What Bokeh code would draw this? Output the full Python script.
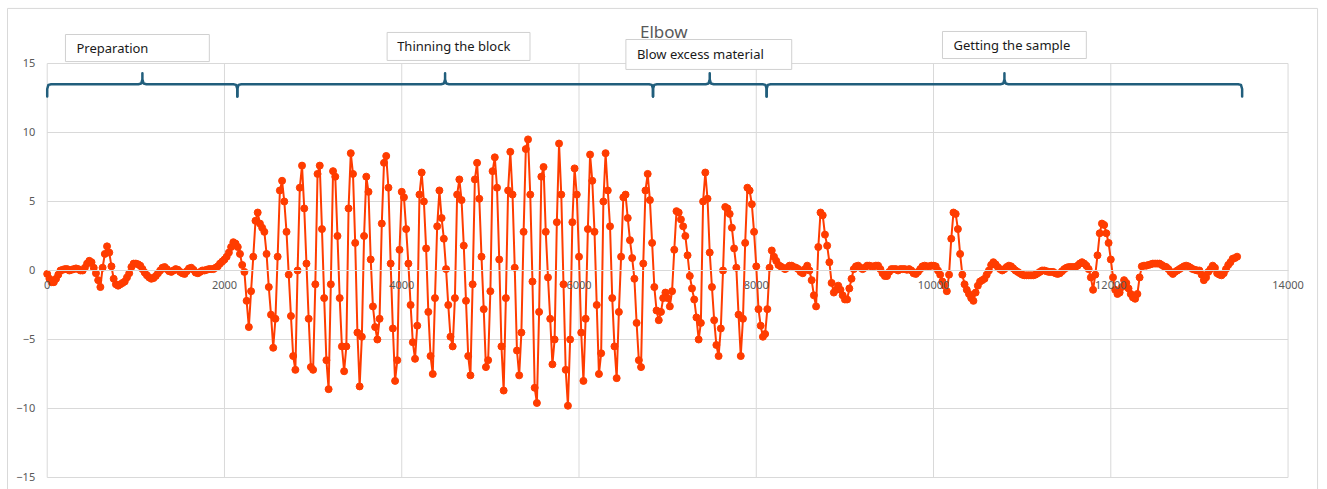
from bokeh.plotting import figure
from bokeh.models import Range1d, FixedTicker
from bokeh.core.properties import value
from bokeh.embed import file_html
from bokeh.resources import INLINE

# ---------------- data ----------------
title_text = "Elbow"
x_ticks = [0, 2000, 4000, 6000, 8000, 10000, 12000, 14000]
y_ticks = [-15, -10, -5, 0, 5, 10, 15]
sample_step = 25  # spacing of the samples along x

phase_names = ["Preparation", "Thinning the block", "Blow excess material", "Getting the sample"]
phase_first_x = [0, 2150, 6875, 8125]          # x of first sample in each phase
brace_start = [0, 2145, 6835, 8117]
brace_end = [2145, 6835, 8117, 13482]
brace_peak = [1074, 4489, 7475, 10800]

prep_y = [
    -0.25, -0.6, -0.85, -0.85, -0.6, -0.3, 0.0, 0.05, 0.1, 0.1,
    0.0, 0.05, 0.1, 0.15, 0.1, 0.0, 0.0, 0.2, 0.5, 0.7,
    0.6, 0.2, -0.2, -0.7, -1.2, 0.2, 1.2, 1.75, 1.3, 0.3,
    -0.6, -1.0, -1.1, -1.0, -0.9, -0.8, -0.5, -0.2, 0.25, 0.5,
    0.5, 0.45, 0.35, 0.1, -0.15, -0.35, -0.5, -0.6, -0.55, -0.4,
    -0.2, 0.0, 0.2, 0.25, 0.1, -0.05, -0.1, 0.0, 0.1, 0.05,
    -0.1, -0.2, -0.25, -0.05, 0.15, 0.2, 0.05, -0.15, -0.2, -0.1,
    0.0, 0.0, 0.05, 0.1, 0.1, 0.1, 0.2, 0.3, 0.5, 0.65,
    0.8, 1.0, 1.3, 1.7, 2.05, 1.95,
]

thin_y = [
    1.7, 1.2, 0.4, -0.1, -2.2, -4.1, -1.5, 1.0, 3.6, 4.2,
    3.4, 3.1, 2.8, 1.2, -1.2, -3.2, -5.6, -3.5, 1.0, 5.8,
    6.5, 5.0, 2.8, -0.3, -3.3, -6.2, -7.2, 0.0, 6.0, 7.6,
    4.5, 0.5, -3.5, -7.0, -7.2, -1.0, 7.0, 7.6, 3.0, -2.0,
    -6.5, -8.6, -1.0, 7.2, 6.8, 2.5, -2.0, -5.5, -7.3, -5.5,
    4.5, 8.5, 7.0, 2.0, -4.5, -8.4, -4.8, 2.5, 6.8, 5.7,
    0.8, -2.6, -4.1, -5.0, -3.5, 3.4, 7.8, 8.3, 6.0, 0.5,
    -4.2, -8.0, -6.5, 1.5, 5.7, 5.3, 3.0, 0.5, -2.5, -5.2,
    -6.4, -4.0, 5.5, 7.1, 5.0, 1.6, -3.0, -6.2, -7.5, -2.0,
    3.2, 5.8, 3.8, 2.3, 0.1, -2.5, -4.8, -5.5, -2.0, 5.5,
    6.6, 5.1, 1.8, -2.2, -6.2, -7.6, -1.0, 6.6, 7.8, 5.2,
    1.0, -2.8, -7.0, -6.5, -1.5, 7.2, 8.2, 6.0, 0.8, -5.5,
    -8.7, -2.0, 5.8, 8.6, 5.5, 0.2, -5.8, -7.6, -4.5, 2.8,
    8.8, 9.5, 5.5, -0.8, -8.5, -9.6, -3.0, 6.8, 7.5, 2.8,
    -0.5, -3.5, -6.8, -5.0, 3.5, 9.2, 5.5, -1.0, -7.2, -9.8,
    -5.0, 3.5, 7.4, 5.5, 1.0, -4.5, -8.0, -3.5, 3.0, 8.4,
    6.5, 2.8, -2.5, -7.5, -6.0, 5.0, 8.5, 5.8, 3.2, -2.0,
    -5.5, -7.8, -3.0, 1.0, 5.3, 5.5, 3.8, 2.2, 0.9, -0.6,
    -3.8, -6.5, -7.0, 0.5, 5.8, 7.0, 5.1, 2.0, -1.2,
]

blow_y = [
    -2.9, -3.6, -3.0, -2.0, -1.6, -2.0, -2.6, -1.5, 1.5, 4.3,
    4.2, 3.7, 3.2, 2.5, 1.1, -0.4, -1.3, -2.1, -3.4, -5.0,
    -3.8, 5.0, 7.1, 5.2, 1.3, -1.2, -3.6, -5.4, -6.2, -4.2,
    0.0, 4.6, 4.5, 4.1, 3.1, 1.6, 0.2, -3.2, -6.2, -3.5,
    2.0, 6.0, 5.8, 4.8, 2.8, 0.3, -2.8, -4.0, -4.8, -4.6,
]

sample_y = [
    -2.8, 0.2, 1.45, 1.0, 0.7, 0.4, 0.3, 0.2, 0.1, 0.2,
    0.35, 0.35, 0.25, 0.2, 0.1, -0.1, -0.2, 0.1, 0.35, 0.0,
    -0.7, -1.8, -2.6, 1.7, 4.2, 4.0, 2.6, 1.8, 0.6, -0.9,
    -1.6, -1.4, -1.1, -1.4, -1.8, -2.1, -2.1, -1.3, -0.6, 0.1,
    0.3, 0.35, 0.2, 0.1, 0.2, 0.35, 0.35, 0.3, 0.3, 0.35,
    0.35, 0.1, -0.2, -0.4, -0.4, -0.1, 0.1, 0.1, 0.1, 0.0,
    0.1, 0.1, 0.1, 0.05, 0.1, 0.0, -0.2, -0.25, -0.1, 0.1,
    0.3, 0.35, 0.3, 0.3, 0.35, 0.35, 0.3, 0.0, -0.3, -0.8,
    -1.1, -1.5, -0.3, 2.3, 4.2, 4.1, 3.0, 1.2, -0.3, -1.0,
    -1.4, -1.7, -2.0, -2.2, -1.6, -1.1, -0.8, -0.7, -0.6, -0.3,
    0.0, 0.4, 0.6, 0.45, 0.25, 0.1, 0.0, 0.1, 0.25, 0.35,
    0.3, 0.15, 0.0, -0.1, -0.2, -0.3, -0.35, -0.35, -0.35, -0.35,
    -0.35, -0.3, -0.2, -0.1, 0.0, 0.0, -0.05, -0.1, -0.1, -0.1,
    -0.2, -0.25, -0.2, -0.05, 0.1, 0.2, 0.25, 0.25, 0.25, 0.25,
    0.35, 0.5, 0.6, 0.5, 0.35, 0.1, -0.5, -1.4, -0.3, 1.1,
    2.7, 3.4, 3.3, 2.7, 2.0, 0.8, -0.5, -1.4, -1.7, -1.6,
    -1.2, -0.7, -0.9, -1.3, -1.7, -1.95, -2.05, -1.7, -0.5, 0.3,
    0.35, 0.35, 0.4, 0.45, 0.5, 0.5, 0.5, 0.5, 0.4, 0.3,
    0.25, 0.1, -0.1, -0.25, -0.1, 0.0, 0.1, 0.2, 0.3, 0.35,
    0.3, 0.2, 0.1, 0.05, 0.0, 0.0, -0.3, -0.7, -0.5, -0.1,
    0.1, 0.35, 0.2, -0.2, -0.3, -0.35, -0.2, 0.1, 0.4, 0.6,
    0.85, 0.9, 1.0,
]

# ---------------- build series ----------------
xs, ys = [], []
for x0, seg in zip(phase_first_x, [prep_y, thin_y, blow_y, sample_y]):
    for i, v in enumerate(seg):
        xs.append(x0 + i * sample_step)
        ys.append(v)

# ---------------- styling / layout ----------------
SERIES = "#FF3C00"
BRACE = "#215E7C"
GRID = "#D9D9D9"
TXT = "#595959"
FONT = "Noto Sans"

# the frame fills the whole canvas; axes sit inside it at fixed locations
p = figure(width=1327, height=489, output_backend="svg", toolbar_location=None,
           x_range=Range1d(-527, 14445), y_range=Range1d(-15.87, 19.565),
           min_border=0, min_border_left=0, min_border_right=0,
           min_border_top=0, min_border_bottom=0)
p.outline_line_color = None
p.background_fill_color = "white"
p.border_fill_color = "white"
p.grid.visible = False

# grid lines limited to the plot area (0..14000, -15..15)
xmin, xmax = x_ticks[0], x_ticks[-1]
ymin, ymax = y_ticks[0], y_ticks[-1]
p.segment(x0=x_ticks, y0=[ymin] * len(x_ticks), x1=x_ticks, y1=[ymax] * len(x_ticks),
          line_color=GRID, line_width=1)
p.segment(x0=[xmin] * len(y_ticks), y0=y_ticks, x1=[xmax] * len(y_ticks), y1=y_ticks,
          line_color=GRID, line_width=1)

# x axis crossing at y = 0
xa = p.xaxis[0]
xa.ticker = FixedTicker(ticks=x_ticks)
xa.fixed_location = 0
xa.bounds = (xmin, xmax)
xa.axis_line_color = GRID
xa.major_tick_line_color = None
xa.minor_tick_line_color = None
xa.major_tick_out = 0
xa.major_tick_in = 0
xa.major_label_standoff = 11
xa.major_label_text_font = FONT
xa.major_label_text_font_size = "11px"
xa.major_label_text_color = TXT

# y axis at x = 0
ya = p.yaxis[0]
ya.ticker = FixedTicker(ticks=y_ticks)
ya.fixed_location = 0
ya.axis_line_color = None
ya.major_tick_line_color = None
ya.minor_tick_line_color = None
ya.major_tick_out = 0
ya.major_tick_in = 0
ya.major_label_standoff = 12
ya.major_label_text_font = FONT
ya.major_label_text_font_size = "11px"
ya.major_label_text_color = TXT

# outer chart border (left, top, right)
p.line([-448, -448, 14333, 14333], [-16.5, 18.99, 18.99, -16.5], line_color=GRID, line_width=1)

# series
p.line(xs, ys, line_color=SERIES, line_width=2)
p.scatter(xs, ys, size=7, fill_color=SERIES, line_color=SERIES, line_width=1)

# braces
y_line, y_low, y_high, r = 13.5, 12.6, 14.3, 45
for x0, x1, xm in zip(brace_start, brace_end, brace_peak):
    bx = [x0, x0, x0 + 0.3 * r, x0 + r,
          xm - r, xm - 0.3 * r, xm, xm, xm, xm + 0.3 * r, xm + r,
          x1 - r, x1 - 0.3 * r, x1, x1]
    by = [y_low, y_line - 0.35, y_line - 0.05, y_line,
          y_line, y_line + 0.05, y_line + 0.35, y_high, y_line + 0.35, y_line + 0.05, y_line,
          y_line, y_line - 0.05, y_line - 0.35, y_low]
    p.line(bx, by, line_color=BRACE, line_width=2.5, line_join="round", line_cap="round")

# annotation boxes with text
box_left = [206, 3835, 6529, 10101]
box_right = [1829, 5447, 8400, 11724]
box_top = [17.10, 17.25, 16.74, 17.32]
box_bottom = [15.14, 15.22, 14.57, 15.36]
text_x = [330, 3948, 6653, 10225]
p.quad(left=box_left, right=box_right, top=box_top, bottom=box_bottom,
       fill_color="white", line_color="#D0D0D0", line_width=1)
p.text(x=text_x, y=[(t + b) / 2 for t, b in zip(box_top, box_bottom)], text=phase_names,
       text_font=value(FONT), text_font_size="13px", text_color="#1A1A1A",
       text_align="left", text_baseline="middle")

# title
p.text(x=[6957], y=[17.35], text=[title_text], text_font=value(FONT), text_font_size="17px",
       text_color=TXT, text_align="center", text_baseline="middle")

open("out.html", "w").write(file_html(p, INLINE))
